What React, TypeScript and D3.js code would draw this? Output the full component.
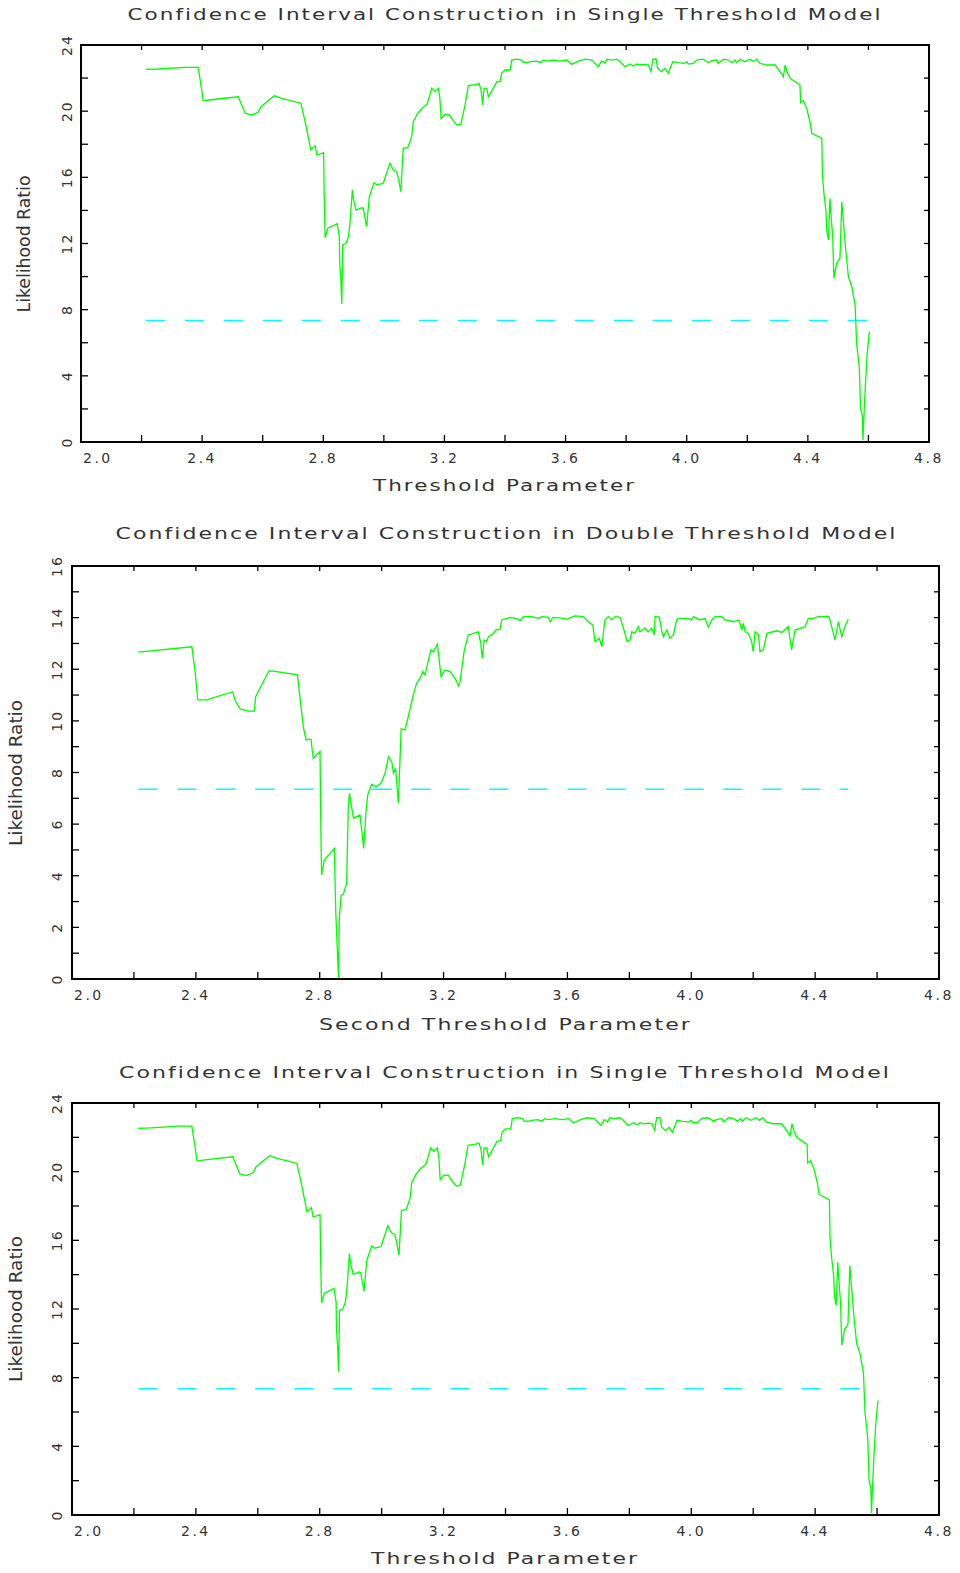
import React from "react";
import * as d3 from "d3";

// ---- Data: single threshold model (likelihood ratio vs threshold) ----
const singleX = [
  2.214, 2.255, 2.343, 2.387, 2.404, 2.443, 2.519, 2.542, 2.564, 2.585, 2.594, 2.638, 2.663, 2.726, 2.740,
  2.759, 2.773, 2.779, 2.801, 2.803, 2.806, 2.815, 2.846, 2.853, 2.854, 2.858, 2.861, 2.864, 2.875, 2.883,
  2.888, 2.896, 2.899, 2.908, 2.927, 2.932, 2.943, 2.952, 2.968, 2.976, 2.998, 3.020, 3.031, 3.042, 3.048,
  3.056, 3.064, 3.079, 3.092, 3.097, 3.110, 3.125, 3.142, 3.152, 3.158, 3.169, 3.180, 3.185, 3.189, 3.202,
  3.216, 3.227, 3.241, 3.254, 3.268, 3.279, 3.307, 3.314, 3.321, 3.326, 3.331, 3.340, 3.345, 3.361, 3.373,
  3.384, 3.389, 3.400, 3.417, 3.422, 3.439, 3.455, 3.460, 3.477, 3.483, 3.505, 3.516, 3.527, 3.538, 3.560,
  3.582, 3.604, 3.620, 3.642, 3.664, 3.686, 3.697, 3.708, 3.719, 3.730, 3.736, 3.752, 3.769, 3.780, 3.796,
  3.813, 3.824, 3.835, 3.846, 3.862, 3.873, 3.882, 3.888, 3.899, 3.904, 3.917, 3.928, 3.939, 3.954, 3.972,
  3.994, 4.000, 4.005, 4.022, 4.033, 4.050, 4.060, 4.071, 4.083, 4.099, 4.104, 4.121, 4.137, 4.149, 4.159,
  4.165, 4.176, 4.192, 4.209, 4.220, 4.231, 4.242, 4.264, 4.292, 4.308, 4.319, 4.325, 4.333, 4.341, 4.358,
  4.374, 4.376, 4.385, 4.396, 4.407, 4.413, 4.446, 4.448, 4.453, 4.460, 4.462, 4.468, 4.473, 4.476, 4.482,
  4.486, 4.495, 4.506, 4.512, 4.517, 4.525, 4.534, 4.545, 4.556, 4.561, 4.570, 4.574, 4.580, 4.582, 4.585,
  4.590, 4.596, 4.603,
];
const singleY = [
  22.53, 22.55, 22.65, 22.65, 20.63, 20.72, 20.87, 19.87, 19.77, 19.93, 20.27, 20.93, 20.78, 20.48, 19.36,
  17.65, 17.91, 17.35, 17.49, 14.93, 12.35, 12.92, 13.2, 12.41, 10.88, 9.79, 8.34, 11.91, 12.01, 12.39,
  13.22, 15.23, 14.73, 14.02, 14.16, 14.13, 13.02, 14.83, 15.68, 15.54, 15.64, 16.85, 16.44, 16.34, 15.94,
  15.13, 17.75, 17.79, 18.46, 19.36, 19.81, 20.17, 20.41, 20.98, 21.38, 21.18, 21.38, 20.78, 19.53, 19.81,
  19.77, 19.47, 19.16, 19.21, 20.37, 21.54, 21.62, 21.68, 21.28, 20.37, 21.38, 21.38, 20.87, 21.38, 21.78,
  21.78, 22.29, 22.49, 22.49, 23.09, 23.15, 23.09, 22.95, 22.95, 22.99, 23.03, 22.93, 23.09, 23.03, 23.09,
  23.03, 23.09, 22.83, 23.03, 23.14, 23.09, 22.89, 22.69, 23.03, 22.89, 23.14, 23.09, 23.14, 22.99, 22.69,
  22.85, 22.73, 22.85, 22.79, 22.83, 22.79, 22.39, 23.14, 23.14, 22.59, 22.39, 22.59, 22.29, 22.99, 22.93,
  22.89, 22.99, 22.85, 22.89, 23.09, 23.14, 23.09, 22.93, 23.05, 23.09, 22.89, 23.14, 23.09, 22.93, 23.09,
  22.93, 23.14, 22.99, 23.14, 22.99, 23.15, 22.89, 22.79, 22.79, 22.39, 22.08, 22.79, 22.29, 21.99, 21.78,
  21.58, 20.51, 20.63, 20.17, 19.36, 18.66, 18.36, 16.14, 15.03, 13.92, 12.82, 12.21, 14.73, 13.83, 12.41,
  9.9, 10.8, 11.11, 14.53, 13.42, 11.61, 9.99, 9.39, 8.28, 5.97, 4.46, 2.04, 1.53, 0.12, 1.53,
  3.45, 5.36, 6.67,
];

// ---- Data: double threshold model (likelihood ratio vs second threshold) ----
const doubleX = [
  2.214, 2.387, 2.397, 2.406, 2.435, 2.519, 2.526, 2.543, 2.569, 2.589, 2.593, 2.636, 2.650, 2.728, 2.736,
  2.747, 2.756, 2.766, 2.772, 2.779, 2.801, 2.803, 2.806, 2.815, 2.847, 2.852, 2.858, 2.861, 2.863, 2.869,
  2.876, 2.887, 2.892, 2.896, 2.909, 2.930, 2.942, 2.949, 2.955, 2.968, 2.981, 2.998, 3.011, 3.022, 3.033,
  3.038, 3.045, 3.054, 3.063, 3.075, 3.086, 3.102, 3.113, 3.127, 3.133, 3.140, 3.159, 3.167, 3.180, 3.192,
  3.205, 3.221, 3.240, 3.248, 3.253, 3.267, 3.280, 3.312, 3.320, 3.325, 3.331, 3.339, 3.345, 3.361, 3.369,
  3.382, 3.388, 3.404, 3.415, 3.441, 3.447, 3.458, 3.485, 3.506, 3.517, 3.538, 3.544, 3.553, 3.587, 3.598,
  3.625, 3.651, 3.667, 3.682, 3.689, 3.703, 3.711, 3.721, 3.732, 3.743, 3.754, 3.770, 3.781, 3.793, 3.802,
  3.808, 3.818, 3.829, 3.834, 3.851, 3.861, 3.872, 3.880, 3.883, 3.897, 3.905, 3.910, 3.921, 3.931, 3.942,
  3.953, 3.958, 3.990, 4.001, 4.007, 4.028, 4.044, 4.055, 4.066, 4.077, 4.098, 4.109, 4.136, 4.152, 4.157,
  4.163, 4.168, 4.174, 4.184, 4.195, 4.200, 4.206, 4.217, 4.222, 4.233, 4.244, 4.276, 4.292, 4.313, 4.324,
  4.335, 4.367, 4.378, 4.394, 4.410, 4.443, 4.448, 4.464, 4.475, 4.486, 4.496, 4.507,
];
const doubleY = [
  12.66, 12.87, 11.97, 10.81, 10.81, 11.13, 10.81, 10.46, 10.38, 10.38, 10.94, 11.94, 11.93, 11.78, 10.94,
  9.77, 9.26, 9.29, 9.26, 8.55, 8.81, 6.42, 4.03, 4.61, 5.06, 2.55, 0.8, 0.03, 2.29, 3.25,
  3.28, 3.71, 6.55, 7.19, 6.23, 6.35, 5.06, 6.42, 7.13, 7.55, 7.45, 7.58, 7.97, 8.61, 8.4,
  7.97, 8.16, 6.81, 9.69, 9.65, 10.16, 11.0, 11.46, 11.71, 11.91, 11.78, 12.75, 12.68, 12.97, 11.71,
  11.97, 11.91, 11.58, 11.35, 11.52, 12.75, 13.33, 13.45, 13.01, 12.42, 13.13, 13.07, 13.26, 13.39, 13.52,
  13.55, 13.91, 13.97, 14.01, 13.94, 13.88, 14.04, 14.04, 13.97, 14.04, 14.01, 13.84, 14.01, 13.97, 13.94,
  14.07, 14.04, 13.84, 13.71, 13.07, 13.2, 12.87, 13.91, 14.04, 13.91, 14.04, 14.01, 13.59, 13.07, 13.13,
  13.45, 13.39, 13.65, 13.45, 13.59, 13.45, 13.59, 13.33, 14.04, 14.01, 13.45, 13.26, 13.52, 13.2, 13.33,
  13.91, 13.97, 13.97, 13.91, 14.04, 13.91, 13.97, 13.63, 13.91, 14.04, 14.04, 13.91, 13.84, 13.91, 13.78,
  13.52, 13.78, 13.45, 13.39, 13.07, 12.68, 13.45, 13.33, 12.68, 12.75, 13.39, 13.49, 13.42, 13.65, 12.75,
  13.52, 13.65, 13.97, 13.97, 14.04, 14.04, 13.91, 13.13, 13.84, 13.26, 13.65, 13.95,
];

const criticalValue = 7.35;

// ---- Axis ticks ----
const xTicks = [2.0, 2.2, 2.4, 2.6, 2.8, 3.0, 3.2, 3.4, 3.6, 3.8, 4.0, 4.2, 4.4, 4.6, 4.8];
const xTickLabels = ["2.0", "2.4", "2.8", "3.2", "3.6", "4.0", "4.4", "4.8"];
const singleYTicks = [0, 2, 4, 6, 8, 10, 12, 14, 16, 18, 20, 22, 24];
const singleYLabels = [0, 4, 8, 12, 16, 20, 24];
const doubleYTicks = [0, 1, 2, 3, 4, 5, 6, 7, 8, 9, 10, 11, 12, 13, 14, 15, 16];
const doubleYLabels = [0, 2, 4, 6, 8, 10, 12, 14, 16];

const titleSingle = "Confidence Interval Construction in Single Threshold Model";
const titleDouble = "Confidence Interval Construction in Double Threshold Model";
const xLabelSingle = "Threshold Parameter";
const xLabelDouble = "Second Threshold Parameter";
const yLabel = "Likelihood Ratio";

const FONT = "'DejaVu Sans', sans-serif";
const TEXT_COLOR = "#333";

type PanelProps = {
  xs: number[];
  ys: number[];
  yMax: number;
  yTicks: number[];
  yLabels: number[];
  left: number;
  right: number;
  top: number;
  bottom: number;
  title: string;
  titleY: number;
  titleCx: number;
  titleLen: number;
  xLabel: string;
  xLabelY: number;
  xLabelCx: number;
  xLabelLen: number;
  yLabelX: number;
  yLabelCy: number;
  yLabelLen: number;
  yTickLabelX: number;
  xTickLabelY: number;
};

function Panel(p: PanelProps) {
  const x = d3.scaleLinear().domain([2.0, 4.8]).range([p.left, p.right]);
  const y = d3.scaleLinear().domain([0, p.yMax]).range([p.bottom, p.top]);
  const pts = p.xs.map((v, i) => [v, p.ys[i]] as [number, number]);
  const line = d3
    .line<[number, number]>()
    .x((d) => x(d[0]))
    .y((d) => y(d[1]));
  const xMin = d3.min(p.xs) as number;
  const xMax = d3.max(p.xs) as number;
  const longTick = 7;
  const shortTick = 5;
  return (
    <g>
      <text
        x={p.titleCx}
        y={p.titleY}
        textAnchor="middle"
        fontFamily={FONT}
        fontSize={16}
        letterSpacing={1.5}
        fill={TEXT_COLOR}
        textLength={p.titleLen}
        lengthAdjust="spacingAndGlyphs"
      >
        {p.title}
      </text>
      {/* ticks */}
      {xTicks.map((t) => (
        <g key={"xt" + t}>
          <line x1={x(t)} x2={x(t)} y1={p.bottom} y2={p.bottom - longTick} stroke="#000" strokeWidth={1.3} />
          <line x1={x(t)} x2={x(t)} y1={p.top} y2={p.top + shortTick} stroke="#000" strokeWidth={1.3} />
        </g>
      ))}
      {p.yTicks.map((t) => (
        <g key={"yt" + t}>
          <line x1={p.left} x2={p.left + longTick} y1={y(t)} y2={y(t)} stroke="#000" strokeWidth={1.3} />
          <line x1={p.right} x2={p.right - shortTick} y1={y(t)} y2={y(t)} stroke="#000" strokeWidth={1.3} />
        </g>
      ))}
      {/* tick labels */}
      {xTickLabels.map((lab, i) => {
        const v = parseFloat(lab);
        return (
          <text
            key={"xl" + lab}
            x={i === 0 ? x(v) + 2 : x(v)}
            y={p.xTickLabelY}
            textAnchor={i === 0 ? "start" : "middle"}
            fontFamily={FONT}
            fontSize={14}
            letterSpacing={2.5}
            fill={TEXT_COLOR}
          >
            {lab}
          </text>
        );
      })}
      {p.yLabels.map((v) => (
        <text
          key={"yl" + v}
          transform={`translate(${p.yTickLabelX},${y(v)}) rotate(-90)`}
          textAnchor="middle"
          fontFamily={FONT}
          fontSize={14}
          letterSpacing={2}
          fill={TEXT_COLOR}
        >
          {String(v)}
        </text>
      ))}
      {/* critical value line */}
      <line
        x1={x(xMin)}
        x2={x(xMax)}
        y1={y(criticalValue)}
        y2={y(criticalValue)}
        stroke="#00ffff"
        strokeWidth={1.5}
        strokeDasharray="19,20"
      />
      {/* likelihood ratio curve */}
      <path d={line(pts) || ""} fill="none" stroke="#00ff00" strokeWidth={1.3} strokeLinejoin="miter" />
      {/* frame */}
      <rect
        x={p.left}
        y={p.top}
        width={p.right - p.left}
        height={p.bottom - p.top}
        fill="none"
        stroke="#000"
        strokeWidth={2}
      />
      <text
        x={p.xLabelCx}
        y={p.xLabelY}
        textAnchor="middle"
        fontFamily={FONT}
        fontSize={16}
        letterSpacing={1.5}
        fill={TEXT_COLOR}
        textLength={p.xLabelLen}
        lengthAdjust="spacingAndGlyphs"
      >
        {p.xLabel}
      </text>
      <text
        transform={`translate(${p.yLabelX},${p.yLabelCy}) rotate(-90)`}
        textAnchor="middle"
        fontFamily={FONT}
        fontSize={18}
        fill={TEXT_COLOR}
        textLength={p.yLabelLen}
        lengthAdjust="spacingAndGlyphs"
      >
        {yLabel}
      </text>
    </g>
  );
}

export default function App() {
  return (
    <svg
      width={960}
      height={1573}
      viewBox="0 0 960 1573"
      style={{ position: "absolute", left: 0, top: 0, background: "#fff" }}
    >
      <rect x={0} y={0} width={960} height={1573} fill="#fff" />
      <Panel
        xs={singleX}
        ys={singleY}
        yMax={24}
        yTicks={singleYTicks}
        yLabels={singleYLabels}
        left={81}
        right={929}
        top={45}
        bottom={442}
        title={titleSingle}
        titleY={20}
        titleCx={505}
        titleLen={755}
        xLabel={xLabelSingle}
        xLabelY={491}
        xLabelCx={504.5}
        xLabelLen={263}
        yLabelX={30}
        yLabelCy={244}
        yLabelLen={137}
        yTickLabelX={72}
        xTickLabelY={463}
      />
      <Panel
        xs={doubleX}
        ys={doubleY}
        yMax={16}
        yTicks={doubleYTicks}
        yLabels={doubleYLabels}
        left={72}
        right={939}
        top={566}
        bottom={979}
        title={titleDouble}
        titleY={539}
        titleCx={506.5}
        titleLen={782}
        xLabel={xLabelDouble}
        xLabelY={1030}
        xLabelCx={505.5}
        xLabelLen={373}
        yLabelX={22}
        yLabelCy={773}
        yLabelLen={146}
        yTickLabelX={62}
        xTickLabelY={1000}
      />
      <Panel
        xs={singleX}
        ys={singleY}
        yMax={24}
        yTicks={singleYTicks}
        yLabels={singleYLabels}
        left={72}
        right={939}
        top={1103}
        bottom={1515}
        title={titleSingle}
        titleY={1078}
        titleCx={505}
        titleLen={772}
        xLabel={xLabelSingle}
        xLabelY={1564}
        xLabelCx={505}
        xLabelLen={268}
        yLabelX={22}
        yLabelCy={1309}
        yLabelLen={146}
        yTickLabelX={62}
        xTickLabelY={1536}
      />
    </svg>
  );
}
